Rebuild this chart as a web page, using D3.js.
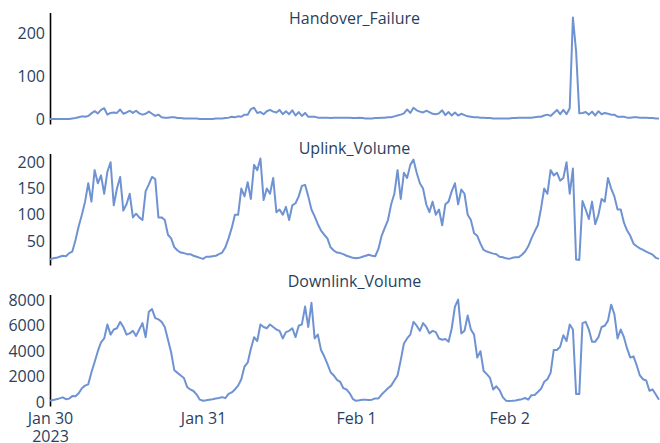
<!DOCTYPE html>
<html>
<head>
<meta charset="utf-8">
<script src="https://cdn.jsdelivr.net/npm/d3@7"></script>
<style>
  body { margin: 0; background: #fff; }
  text { font-family: "Open Sans", verdana, arial, sans-serif; }
</style>
</head>
<body>
<div id="chart"></div>
<script>
// 30-minute samples starting 2023-01-30 00:00
let startTime = Date.UTC(2023, 0, 30);
let stepMs = 30 * 60 * 1000;

let handover = [
  1,1,1,1,1,1,1,2,3,5,7,6,8,14,19,14,22,26,11,15,16,15,23,13,16,20,15,20,14,11,13,18,13,8,11,5,4,4,5,5,3,3,2,2,2,2,2,1,
  1,1,1,1,2,2,2,3,4,6,5,7,6,11,11,24,27,15,17,12,19,22,18,16,22,12,19,12,21,9,17,8,15,6,6,6,4,4,4,4,3,4,4,4,4,4,4,3,
  3,4,3,2,2,2,3,3,4,4,5,5,7,9,11,14,23,15,27,21,18,16,20,17,13,12,14,21,10,17,9,16,9,13,10,7,6,5,5,4,4,3,3,2,2,2,2,2,
  2,3,3,4,4,4,4,4,5,6,6,9,11,8,15,22,12,22,12,26,237,158,14,15,17,11,18,9,19,12,15,13,11,11,6,6,6,4,4,5,5,4,4,4,3,3,2,2
];

let uplink = [
  15,17,18,20,22,21,27,30,52,78,100,125,160,125,185,160,175,140,182,200,118,150,172,108,120,140,95,102,95,90,145,158,172,168,95,95,90,62,55,38,32,28,27,25,25,22,20,18,
  16,20,20,21,22,25,28,38,55,75,100,100,150,135,162,130,195,185,207,128,150,140,170,105,110,100,115,90,118,122,135,155,157,135,110,97,82,70,62,55,38,32,28,27,25,22,20,18,
  17,18,20,22,24,22,21,35,60,75,90,120,140,185,130,180,170,195,205,180,160,150,120,105,125,100,110,80,120,125,145,160,120,148,140,100,90,65,60,45,33,30,28,26,25,20,19,17,
  16,18,19,19,24,30,40,55,68,80,112,150,140,185,175,180,165,170,200,140,188,15,14,126,110,92,125,82,100,130,125,170,150,135,110,110,85,70,60,45,40,36,33,30,27,24,18,16
];

let downlink = [
  110,170,230,300,380,240,280,480,470,700,1100,1300,1400,2350,3150,4000,4700,5000,6100,5300,5700,5800,6300,5900,5300,5400,5600,5200,5700,6200,5100,7100,7300,6600,6500,6300,5900,4900,3900,2500,2300,2100,1900,1200,1000,880,600,200,
  110,150,200,240,290,330,400,320,650,770,1000,1300,1800,2800,3100,4200,5100,4800,6100,5900,5800,6100,5900,5700,5600,5000,5500,5600,5800,5100,6000,6100,7500,5900,7800,5000,5300,4100,3600,3000,2350,2100,1750,1600,1100,1000,700,250,
  111,150,200,200,180,200,300,300,600,850,1100,1300,1700,2100,3300,4600,5000,5300,6300,6000,5600,6200,5900,5400,5600,5500,5000,4900,4950,4740,5800,7500,8050,5400,5600,6800,5700,5300,3500,4000,2450,2200,1900,1000,1250,950,400,120,
  100,110,140,190,240,330,200,550,560,800,1050,1600,1800,2300,4100,4100,4350,5250,4800,6100,5700,650,640,6200,6300,5700,4740,4750,5100,5900,6000,6400,7650,6900,5000,5700,5100,4200,3500,3600,2900,2100,1800,1700,900,1000,600,190
];

let seriesNames = ['Handover_Failure', 'Uplink_Volume', 'Downlink_Volume'];
let handoverTicks = [0, 100, 200];
let uplinkTicks = [50, 100, 150, 200];
let downlinkTicks = [0, 2000, 4000, 6000, 8000];
let xTickDates = [Date.UTC(2023,0,30), Date.UTC(2023,0,31), Date.UTC(2023,1,1), Date.UTC(2023,1,2)];
let xTickLabels = ['Jan 30', 'Jan 31', 'Feb 1', 'Feb 2'];

function ready(fn) {
  if (document.readyState != 'loading') {
    fn();
  } else {
    document.addEventListener('DOMContentLoaded', fn);
  }
}

ready(main);

function main() {
  let width = 660, height = 443;
  let left = 50, right = 659;
  let top = 12.5, panelH = 111.5, gap = 29.5;
  let titleY = [24, 154, 287];
  let lineColor = '#6f93d2';
  let textColor = '#2a3f5f';

  let times = handover.map((d, i) => new Date(startTime + i * stepMs));

  let svg = d3.select('#chart').append('svg')
    .attr('width', width)
    .attr('height', height);

  let x = d3.scaleUtc()
    .domain(d3.extent(times))
    .range([left, right]);

  let panels = [
    { name: seriesNames[0], values: handover, ticks: handoverTicks },
    { name: seriesNames[1], values: uplink, ticks: uplinkTicks },
    { name: seriesNames[2], values: downlink, ticks: downlinkTicks }
  ];

  panels.forEach(function(p, k) {
    let y0 = top + k * (panelH + gap);
    let y1 = y0 + panelH;
    let ext = d3.extent(p.values);
    let pad = (ext[1] - ext[0]) * 0.05;
    let y = d3.scaleLinear()
      .domain([ext[0] - pad, ext[1] + pad])
      .range([y1, y0]);

    let yAxis = svg.append('g')
      .attr('transform', 'translate(' + left + ',0)')
      .call(d3.axisLeft(y)
        .tickValues(p.ticks)
        .tickFormat(d3.format('d'))
        .tickSize(0)
        .tickPadding(5)
        .tickSizeOuter(0));
    yAxis.select('.domain').attr('stroke', '#000').attr('stroke-width', 1.6);
    yAxis.selectAll('text')
      .attr('fill', textColor)
      .style('font-size', '16px');

    let line = d3.line()
      .x((d, i) => x(times[i]))
      .y(d => y(d));

    svg.append('path')
      .datum(p.values)
      .attr('fill', 'none')
      .attr('stroke', lineColor)
      .attr('stroke-width', 2)
      .attr('stroke-linejoin', 'round')
      .attr('d', line);

    svg.append('text')
      .attr('x', (left + right) / 2)
      .attr('y', titleY[k])
      .attr('text-anchor', 'middle')
      .attr('fill', textColor)
      .style('font-size', '16px')
      .text(p.name);

    if (k == panels.length - 1) {
      let xAxis = svg.append('g')
        .attr('transform', 'translate(0,' + y1 + ')')
        .call(d3.axisBottom(x)
          .tickValues(xTickDates.map(d => new Date(d)))
          .tickFormat((d, i) => xTickLabels[i])
          .tickSize(0)
          .tickPadding(7));
      xAxis.select('.domain').remove();
      xAxis.selectAll('text')
        .attr('fill', textColor)
        .style('font-size', '16px');
      xAxis.select('.tick text')
        .append('tspan')
        .attr('x', 0)
        .attr('dy', '1.1em')
        .text('2023');
    }
  });
}
</script>
</body>
</html>
